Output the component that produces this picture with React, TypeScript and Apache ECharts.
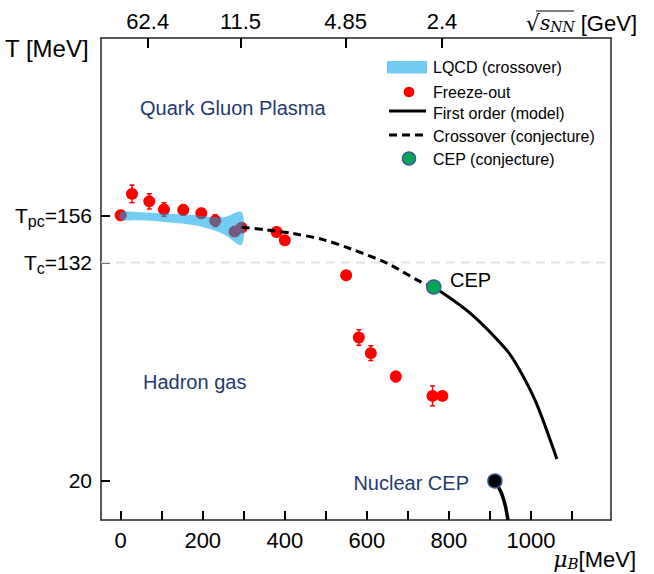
import React, { useEffect, useRef } from 'react';
import * as echarts from 'echarts';

// ---- data ----
const X_MIN = -48;
const X_MAX = 1195;
const Y_MIN = 0;
const Y_MAX = 247;

const muTickValues = [0, 100, 200, 300, 400, 500, 600, 700, 800, 900, 1000, 1100];
const muLabelValues = [0, 200, 400, 600, 800, 1000];
const tTickValues = [20, 132, 156];
const sqrtSLabels = ['62.4', '11.5', '4.85', '2.4'];
const sqrtSMu = [66, 292, 548, 783];

const freezeMu = [0, 27.5, 69.7, 105.5, 152.5, 196.4, 230.5, 277.6, 294.6, 380, 400, 549.5, 580.4, 609.6, 670.5, 760, 784];
const freezeT = [156.2, 167.1, 163.3, 159.1, 158.9, 157.2, 153.4, 147.8, 149.8, 147.6, 143.3, 125.4, 93.5, 85.5, 73.5, 63.6, 63.6];
const freezeErr = [0.5, 4.5, 3.9, 3.5, 2.7, 2.4, 3.0, 1.0, 1.0, 1.0, 1.0, 1.0, 4.0, 3.8, 2.6, 5.1, 1.0];

const lqcdMu = [0, 50, 100, 150, 200, 250, 295];
const lqcdLow = [154.0, 153.6, 152.9, 151.9, 150.2, 146.6, 141.0];
const lqcdHigh = [157.9, 157.7, 157.2, 156.7, 155.8, 155.1, 157.9];

const crossMu = [295, 350, 420, 493, 560, 648, 729, 763];
const crossT = [150, 148.8, 146.8, 143.7, 139, 131.7, 122.3, 119.4];

const firstMu = [763, 851, 940, 972, 1013, 1063];
const firstT = [119.4, 106.1, 87.2, 77, 59.9, 31.3];

const nuclearMu = [912, 928, 938, 944];
const nuclearT = [20, 13.7, 6.8, 0];

const cepPoint = [763, 119.4];
const nuclearCepPoint = [912, 20];
const tcValue = 132;

const FONT = "'Liberation Sans', Arial, sans-serif";
const SERIF = "'DejaVu Serif', 'Liberation Serif', serif";
const NAVY = '#1f3a6e';
const BAND = 'rgba(0,164,232,0.55)';

export default function App() {
  const ref = useRef<HTMLDivElement>(null);
  useEffect(() => {
    if (!ref.current) return;
    const chart = echarts.init(ref.current, undefined, { renderer: 'svg' });

    const zip = (a: number[], b: number[]) => a.map((v, i) => [v, b[i]]);

    const option: any = {
      animation: false,
      backgroundColor: '#fff',
      grid: { left: 101, right: 43, top: 38, bottom: 54, containLabel: false },
      xAxis: [
        {
          type: 'value', min: X_MIN, max: X_MAX, position: 'bottom',
          axisLine: { show: true, onZero: false, lineStyle: { color: '#222', width: 1.5 } },
          axisTick: { show: true, inside: true, length: 9, customValues: muTickValues, lineStyle: { color: '#000', width: 2 } },
          axisLabel: {
            customValues: muLabelValues, fontSize: 22, color: '#000', margin: 9, fontFamily: FONT,
            formatter: (v: number) => String(Math.round(v)),
          },
          splitLine: { show: false },
        },
        {
          type: 'value', min: X_MIN, max: X_MAX, position: 'top',
          axisLine: { show: true, onZero: false, lineStyle: { color: '#222', width: 1.5 } },
          axisTick: { show: true, inside: true, length: 10, customValues: sqrtSMu, lineStyle: { color: '#000', width: 2 } },
          axisLabel: {
            customValues: sqrtSMu, fontSize: 22, color: '#000', margin: 6, fontFamily: FONT,
            formatter: (v: number) => {
              let best = 0;
              sqrtSMu.forEach((m, i) => { if (Math.abs(m - v) < Math.abs(sqrtSMu[best] - v)) best = i; });
              return sqrtSLabels[best];
            },
          },
          splitLine: { show: false },
        },
      ],
      yAxis: [
        {
          type: 'value', min: Y_MIN, max: Y_MAX,
          axisLine: { show: true, onZero: false, lineStyle: { color: '#222', width: 1.5 } },
          axisTick: { show: true, inside: true, length: 9, customValues: tTickValues, lineStyle: { color: '#000', width: 2 } },
          axisLabel: {
            customValues: tTickValues, margin: 9,
            formatter: (v: number) => {
              if (v === 156) return '{t|T}{s|pc}{t|=156}';
              if (v === 132) return '{t|T}{s|c}{t|=132}';
              return '{t|' + v + '}';
            },
            rich: {
              t: { fontSize: 21, lineHeight: 28, color: '#000', fontFamily: FONT },
              s: { fontSize: 16, lineHeight: 16, padding: [12, 0, 0, 0], color: '#000', fontFamily: FONT },
            },
          },
          splitLine: { show: false },
        },
        {
          type: 'value', min: Y_MIN, max: Y_MAX, position: 'right',
          axisLine: { show: true, onZero: false, lineStyle: { color: '#222', width: 1.5 } },
          axisTick: { show: false }, axisLabel: { show: false }, splitLine: { show: false },
        },
      ],
      series: [
        {
          type: 'line', name: 'Tc', data: [[X_MIN, tcValue], [X_MAX, tcValue]], symbol: 'none',
          lineStyle: { color: '#e2e2e2', width: 2, type: [9, 6] }, z: 1, silent: true,
        },
        {
          type: 'custom', name: 'errors', z: 2,
          data: freezeMu.map((m, i) => [m, freezeT[i] - freezeErr[i], freezeT[i] + freezeErr[i]]),
          renderItem: (params: any, api: any) => {
            const lo = api.coord([api.value(0), api.value(1)]);
            const hi = api.coord([api.value(0), api.value(2)]);
            const c = 2.5;
            const st = { stroke: '#ff0000', lineWidth: 1.5 };
            return {
              type: 'group', children: [
                { type: 'line', shape: { x1: lo[0], y1: lo[1], x2: hi[0], y2: hi[1] }, style: st },
                { type: 'line', shape: { x1: lo[0] - c, y1: lo[1], x2: lo[0] + c, y2: lo[1] }, style: st },
                { type: 'line', shape: { x1: hi[0] - c, y1: hi[1], x2: hi[0] + c, y2: hi[1] }, style: st },
              ],
            };
          },
        },
        {
          type: 'scatter', name: 'Freeze-out', data: zip(freezeMu, freezeT), symbolSize: 12,
          itemStyle: { color: '#ff0000', opacity: 1 }, z: 2,
        },
        {
          type: 'custom', name: 'LQCD (crossover)', z: 3, data: [[0, 156]],
          renderItem: (params: any, api: any) => {
            const up = lqcdMu.map((m, i) => api.coord([m, lqcdHigh[i]]));
            const dn = lqcdMu.map((m, i) => api.coord([m, lqcdLow[i]])).reverse();
            return { type: 'polygon', shape: { points: up.concat(dn), smooth: 0.3 }, style: { fill: BAND } };
          },
        },
        {
          type: 'line', name: 'Crossover', data: zip(crossMu, crossT), symbol: 'none', smooth: 0.3,
          lineStyle: { color: '#000', width: 3, type: [8, 5] }, z: 4,
        },
        {
          type: 'line', name: 'First order', data: zip(firstMu, firstT), symbol: 'none', smooth: 0.3,
          lineStyle: { color: '#000', width: 3 }, z: 4,
        },
        {
          type: 'line', name: 'Nuclear', data: zip(nuclearMu, nuclearT), symbol: 'none', smooth: 0.3,
          lineStyle: { color: '#000', width: 3.5 }, z: 4,
        },
        {
          type: 'scatter', name: 'CEP', data: [cepPoint], symbolSize: 14,
          itemStyle: { color: '#00a651', borderColor: '#3b5b9a', borderWidth: 1.5, opacity: 1 }, z: 5,
        },
        {
          type: 'scatter', name: 'Nuclear CEP', data: [nuclearCepPoint], symbolSize: 14,
          itemStyle: { color: '#000', borderColor: '#3b5b9a', borderWidth: 1.5, opacity: 1 }, z: 5,
        },
      ],
      graphic: [
        // axis titles
        { type: 'text', x: 5, y: 48, style: { text: 'T [MeV]', fontSize: 24, fontFamily: FONT, fill: '#000', verticalAlign: 'middle' } },
        {
          type: 'text', x: 637, y: 23,
          style: {
            text: '{r|√}{s|s}{n|NN}{g| [GeV]}', align: 'right', verticalAlign: 'middle',
            rich: {
              r: { fontSize: 22, lineHeight: 26, fontFamily: SERIF, fill: '#000' },
              s: { fontSize: 20, lineHeight: 26, fontFamily: SERIF, fontStyle: 'italic', fill: '#000' },
              n: { fontSize: 14, lineHeight: 14, fontFamily: SERIF, fontStyle: 'italic', fill: '#000', padding: [8, 0, 0, 0] },
              g: { fontSize: 22, lineHeight: 26, fontFamily: FONT, fill: '#000' },
            },
          },
        },
        { type: 'line', shape: { x1: 536, y1: 11, x2: 574, y2: 11 }, style: { stroke: '#000', lineWidth: 1 } },
        {
          type: 'text', x: 636, y: 559,
          style: {
            text: '{m|μ}{b|B}{g|[MeV]}', align: 'right', verticalAlign: 'middle',
            rich: {
              m: { fontSize: 22, lineHeight: 26, fontFamily: SERIF, fontStyle: 'italic', fill: '#000' },
              b: { fontSize: 15, lineHeight: 16, fontFamily: SERIF, fontStyle: 'italic', fill: '#000', padding: [10, 0, 0, 0] },
              g: { fontSize: 22, lineHeight: 26, fontFamily: FONT, fill: '#000' },
            },
          },
        },
        // annotations
        { type: 'text', x: 140, y: 108, style: { text: 'Quark Gluon Plasma', fontSize: 20, fontFamily: FONT, fill: NAVY, verticalAlign: 'middle' } },
        { type: 'text', x: 143, y: 382, style: { text: 'Hadron gas', fontSize: 20, fontFamily: FONT, fill: NAVY, verticalAlign: 'middle' } },
        { type: 'text', x: 469, y: 483, style: { text: 'Nuclear CEP', fontSize: 20, fontFamily: FONT, fill: NAVY, align: 'right', verticalAlign: 'middle' } },
        { type: 'text', x: 450, y: 280, style: { text: 'CEP', fontSize: 20, fontFamily: FONT, fill: '#000', verticalAlign: 'middle' } },
        // legend
        { type: 'rect', shape: { x: 387, y: 61, width: 40, height: 12.5 }, style: { fill: BAND } },
        { type: 'text', x: 433, y: 67, style: { text: 'LQCD (crossover)', fontSize: 16, fontFamily: FONT, fill: '#000', verticalAlign: 'middle' } },
        { type: 'circle', shape: { cx: 409, cy: 92, r: 5.3 }, style: { fill: '#ff0000' } },
        { type: 'text', x: 433, y: 92, style: { text: 'Freeze-out', fontSize: 16, fontFamily: FONT, fill: '#000', verticalAlign: 'middle' } },
        { type: 'line', shape: { x1: 389, y1: 111, x2: 426, y2: 111 }, style: { stroke: '#000', lineWidth: 3 } },
        { type: 'text', x: 433, y: 113, style: { text: 'First order (model)', fontSize: 16, fontFamily: FONT, fill: '#000', verticalAlign: 'middle' } },
        { type: 'line', shape: { x1: 389, y1: 135, x2: 426, y2: 135 }, style: { stroke: '#000', lineWidth: 3, lineDash: [8, 5] } },
        { type: 'text', x: 433, y: 136, style: { text: 'Crossover (conjecture)', fontSize: 16, fontFamily: FONT, fill: '#000', verticalAlign: 'middle' } },
        { type: 'circle', shape: { cx: 409, cy: 158.5, r: 6.5 }, style: { fill: '#00a651', stroke: '#3b5b9a', lineWidth: 1.5 } },
        { type: 'text', x: 433, y: 159, style: { text: 'CEP (conjecture)', fontSize: 16, fontFamily: FONT, fill: '#000', verticalAlign: 'middle' } },
      ],
    };
    chart.setOption(option);
    return () => chart.dispose();
  }, []);
  return <div ref={ref} style={{ position: 'fixed', left: 0, top: 0, width: 654, height: 574 }} />;
}
